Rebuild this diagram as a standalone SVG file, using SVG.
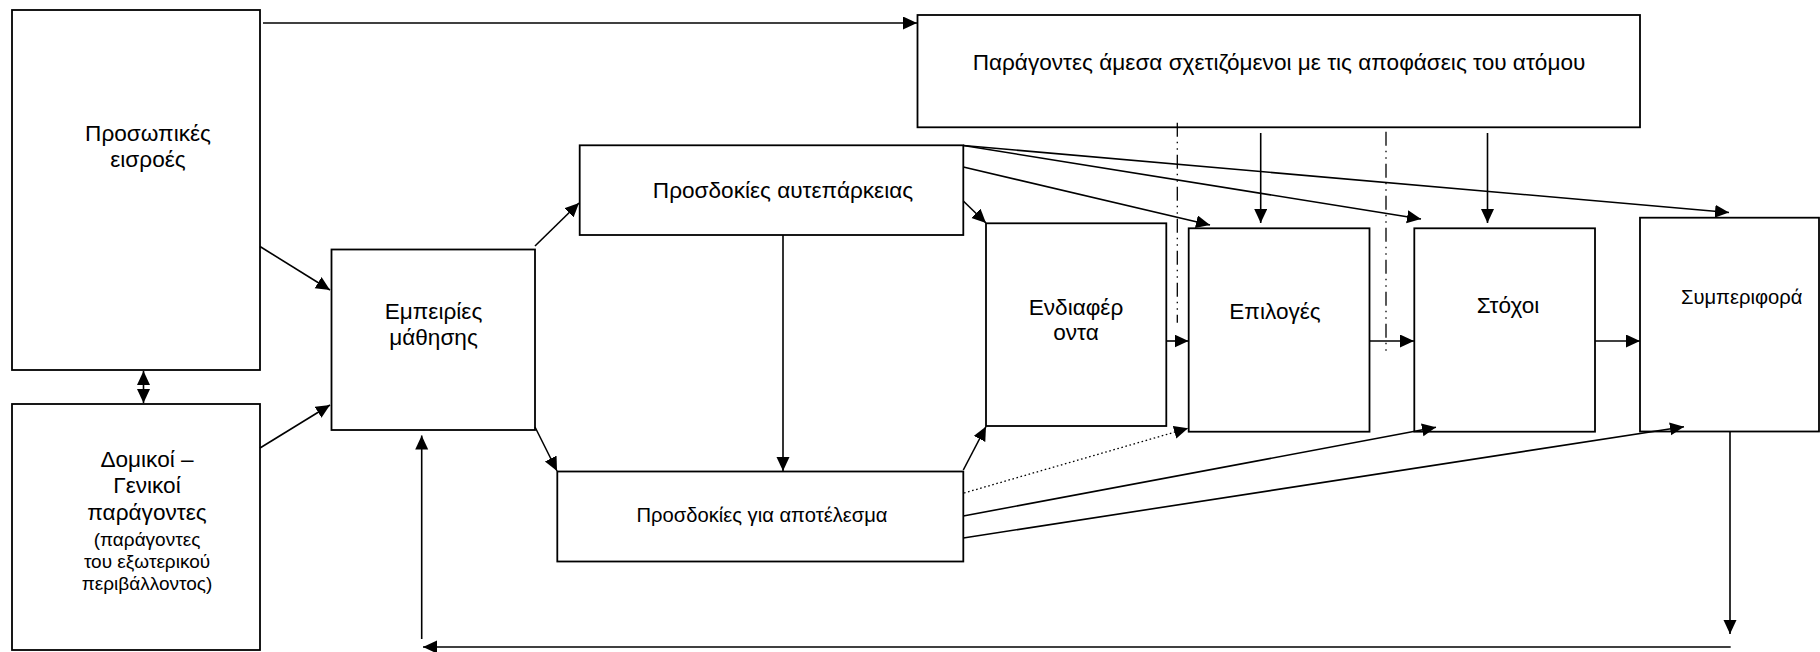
<svg xmlns="http://www.w3.org/2000/svg" width="1820" height="652" viewBox="0 0 1820 652">
<style>
.box{fill:#fff;stroke:#000;stroke-width:1.8}
.t{font-family:"Liberation Sans",Arial,sans-serif;fill:#000;text-anchor:middle}
.big{font-size:22.6px}
.mid{font-size:20.2px}
.sm{font-size:19px}
.ln{fill:none;stroke:#000;stroke-width:1.6}
.arr{marker-end:url(#ah)}
.dd{fill:none;stroke:#000;stroke-width:1.3;stroke-dasharray:14 5 1.5 5 1.5 5}
.dot{fill:none;stroke:#000;stroke-width:1.3;stroke-dasharray:1.6 2.6}
</style>
<defs>
<marker id="ah" markerUnits="userSpaceOnUse" markerWidth="15" markerHeight="14" refX="14" refY="6.5" orient="auto-start-reverse">
<path d="M0,0 L14,6.5 L0,13 z" fill="#000"/>
</marker>
</defs>
<rect width="1820" height="652" fill="#fff"/>

<g id="n-prosopikes">
<rect class="box" x="12" y="10" width="248" height="360"/>
<text class="t big" x="148" y="140.5">Προσωπικές</text>
<text class="t big" x="148" y="166.5">εισροές</text>
</g>
<g id="n-domikoi">
<rect class="box" x="12" y="404" width="248" height="246"/>
<text class="t big" x="147" y="467">Δομικοί –</text>
<text class="t big" x="147" y="493">Γενικοί</text>
<text class="t big" x="147" y="519.5">παράγοντες</text>
<text class="t sm" x="147" y="545.5">(παράγοντες</text>
<text class="t sm" x="147" y="567.5">του εξωτερικού</text>
<text class="t sm" x="147" y="589.5">περιβάλλοντος)</text>
</g>
<g id="n-empeiries">
<rect class="box" x="331.5" y="249.5" width="203.5" height="180.5"/>
<text class="t big" x="433.5" y="319">Εμπειρίες</text>
<text class="t big" x="433.5" y="345">μάθησης</text>
</g>
<g id="n-auteparkeia">
<rect class="box" x="579.7" y="145.3" width="383.6" height="89.7"/>
<text class="t big" x="783" y="198.3">Προσδοκίες αυτεπάρκειας</text>
</g>
<g id="n-apotelesma">
<rect class="box" x="557.3" y="471.5" width="406" height="90"/>
<text class="t mid" x="762" y="521.7">Προσδοκίες για αποτέλεσμα</text>
</g>
<g id="n-paragontes">
<rect class="box" x="917.5" y="15" width="722.5" height="112.3"/>
<text class="t big" x="1279" y="69.5">Παράγοντες άμεσα σχετιζόμενοι με τις αποφάσεις του ατόμου</text>
</g>
<g id="n-endiaferonta">
<rect class="box" x="986" y="223.3" width="180.3" height="202.7"/>
<text class="t big" x="1076" y="315">Ενδιαφέρ</text>
<text class="t big" x="1076" y="340">οντα</text>
</g>
<g id="n-epiloges">
<rect class="box" x="1188.7" y="228.3" width="180.8" height="203.4"/>
<text class="t big" x="1275" y="319.3">Επιλογές</text>
</g>
<g id="n-stoxoi">
<rect class="box" x="1414.3" y="228.3" width="180.7" height="203.4"/>
<text class="t big" x="1508" y="312.7">Στόχοι</text>
</g>
<g id="n-symperifora">
<rect class="box" x="1640" y="217.7" width="179" height="213.8"/>
<text class="t mid" x="1741.7" y="304">Συμπεριφορά</text>
</g>

<g id="connectors">
<line class="ln arr" x1="263" y1="23" x2="917" y2="23"/>
<line class="ln" x1="143.5" y1="371" x2="143.5" y2="403" marker-start="url(#ah)" marker-end="url(#ah)"/>
<line class="ln arr" x1="260" y1="246.5" x2="330" y2="290"/>
<line class="ln arr" x1="260" y1="448" x2="330" y2="405"/>
<line class="ln arr" x1="535" y1="246" x2="579" y2="203"/>
<line class="ln arr" x1="535" y1="427" x2="557" y2="471"/>
<line class="ln arr" x1="783" y1="235" x2="783" y2="471"/>
<line class="ln arr" x1="963.3" y1="201" x2="986" y2="223"/>
<line class="ln arr" x1="963.3" y1="470" x2="986" y2="426.5"/>
<line class="ln arr" x1="963.3" y1="167" x2="1210" y2="225"/>
<line class="ln arr" x1="963.3" y1="145.5" x2="1421" y2="219"/>
<line class="ln arr" x1="963.3" y1="145.5" x2="1729" y2="212.5"/>
<line class="ln arr" x1="1260.7" y1="133" x2="1260.7" y2="223"/>
<line class="ln arr" x1="1487.5" y1="133" x2="1487.5" y2="223"/>
<line class="ln arr" x1="1166.3" y1="341" x2="1188.5" y2="341"/>
<line class="ln arr" x1="1369.5" y1="341" x2="1414" y2="341"/>
<line class="ln arr" x1="1595" y1="341" x2="1640" y2="341"/>
<line class="dot arr" x1="964" y1="493" x2="1188" y2="428.3"/>
<line class="ln arr" x1="963.3" y1="516" x2="1436" y2="427.3"/>
<line class="ln arr" x1="963.3" y1="538" x2="1684" y2="426.7"/>
<line class="ln arr" x1="1730" y1="431.5" x2="1730" y2="634"/>
<line class="ln arr" x1="1730.7" y1="647" x2="423" y2="647"/>
<line class="ln arr" x1="421.7" y1="639" x2="421.7" y2="435.5"/>
<line class="dd" x1="1177.3" y1="122.7" x2="1177.3" y2="322.7"/>
<line class="dd" x1="1386" y1="131.7" x2="1386" y2="353.3"/>
</g>
</svg>
